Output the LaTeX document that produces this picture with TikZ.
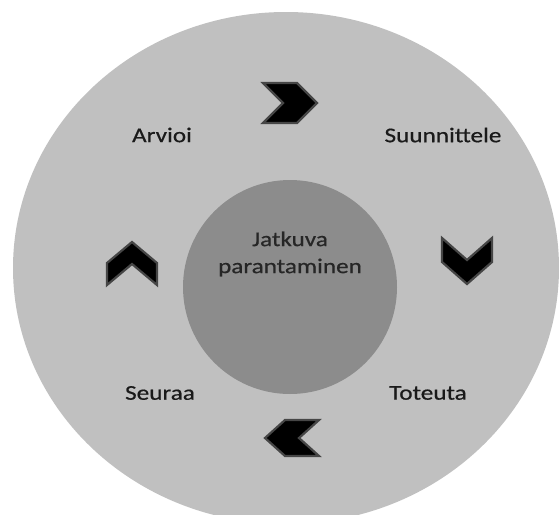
\documentclass[tikz,border=0pt]{standalone}
\usepackage{fontspec}
\setmainfont{Carlito}[FakeStretch=1.2,FakeBold=0.6]
\begin{document}
\begin{tikzpicture}[x=1pt,y=-1pt,
  stage/.style={font=\fontsize{21}{27}\selectfont,text=labeltext,inner sep=0pt},
  chevron/.style={fill=black,draw=chevronedge,line width=2.2pt,line join=miter}]
\definecolor{outergray}{RGB}{192,192,192}
\definecolor{innergray}{RGB}{140,140,140}
\definecolor{labeltext}{RGB}{26,26,26}
\definecolor{chevronedge}{RGB}{70,70,70}
\useasboundingbox (0,0) rectangle (559,514);
\clip (0,0) rectangle (559,514);
% outer ring and centre disc
\fill[outergray] (286,268) ellipse [x radius=273, y radius=256];
\fill[innergray] (290,287) circle [radius=107];
\node[stage,align=center,text=black!85] (core) at (290,254) {Jatkuva\\parantaminen};
% stage labels
\node[stage] (plan) at (443,135) {Suunnittele};
\node[stage] (doit) at (428,393) {Toteuta};
\node[stage] (check) at (160,393) {Seuraa};
\node[stage] (act) at (162,135) {Arvioi};
% chevrons between the stages
\draw[chevron,shift={(290,103)}] (-27,-20) -- (7,-20) -- (27,0) -- (7,20) -- (-27,20) -- (-7,0) -- cycle;
\draw[chevron,shift={(467,261)}] (-25,-23) -- (0,-1) -- (25,-23) -- (25,1) -- (0,23) -- (-25,1) -- cycle;
\draw[chevron,shift={(292,438)}] (27,-18) -- (-7,-18) -- (-27,0) -- (-7,18) -- (27,18) -- (7,0) -- cycle;
\draw[chevron,shift={(132,263)}] (-25,22) -- (0,1) -- (25,22) -- (25,0) -- (0,-21) -- (-25,0) -- cycle;
\end{tikzpicture}
\end{document}
